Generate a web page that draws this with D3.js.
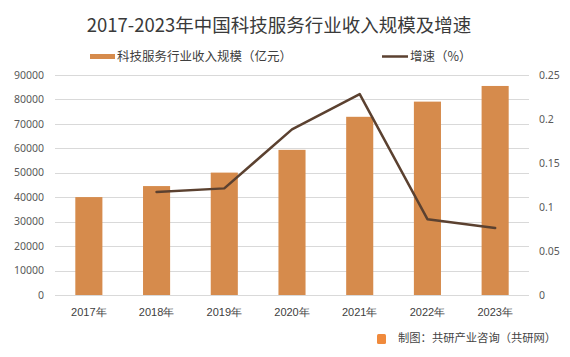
<!DOCTYPE html>
<html><head><meta charset="utf-8">
<script src="https://cdn.jsdelivr.net/npm/d3@7"></script>
<style>
html,body{margin:0;padding:0;background:#fff;}
svg{display:block;font-family:"Noto Sans CJK SC","Noto Sans",sans-serif;}
</style></head>
<body>
<svg id="chart" width="570" height="357"></svg>
<script>
const years = ["2017年","2018年","2019年","2020年","2021年","2022年","2023年"];
const revenue = [40000, 44500, 50000, 59300, 72800, 79000, 85400];
const growth = [null, 0.117, 0.121, 0.188, 0.228, 0.086, 0.076];
const leftTicks = [0,10000,20000,30000,40000,50000,60000,70000,80000,90000];
const rightTicks = [0,0.05,0.1,0.15,0.2,0.25];
const titleText = "2017-2023年中国科技服务行业收入规模及增速";
const legendBar = "科技服务行业收入规模（亿元）";
const legendLine = "增速（%）";
const footerText = "制图：共研产业咨询（共研网）";

const svg = d3.select("#chart");
const m = {left:55, right:529, top:74.7, bottom:295};

const x = d3.scaleBand().domain(years).range([m.left, m.right]).paddingInner(0.6).paddingOuter(0.3);
const yL = d3.scaleLinear().domain([0,90000]).range([m.bottom, m.top]);
const yR = d3.scaleLinear().domain([0,0.25]).range([m.bottom, m.top]);

// gridlines
svg.append("g").selectAll("line").data(leftTicks).join("line")
  .attr("x1", m.left).attr("x2", m.right)
  .attr("y1", d=>Math.round(yL(d))+0.5).attr("y2", d=>Math.round(yL(d))+0.5)
  .attr("stroke", "#d9d9d9").attr("stroke-width", 1);

// left axis
const axL = svg.append("g").attr("transform", `translate(${m.left-11},0)`)
  .call(d3.axisLeft(yL).tickValues(leftTicks).tickSize(0).tickPadding(0).tickFormat(d=>String(d)));
axL.select(".domain").remove();
axL.selectAll("text").attr("font-size", "10.5px").attr("fill", "#595959").attr("font-family", "'Noto Sans','DejaVu Sans',sans-serif");

// right axis
const axR = svg.append("g").attr("transform", `translate(${m.right+10},0)`)
  .call(d3.axisRight(yR).tickValues(rightTicks).tickSize(0).tickPadding(0).tickFormat(d=>String(d)));
axR.select(".domain").remove();
axR.selectAll("text").attr("font-size", "10.5px").attr("fill", "#595959").attr("font-family", "'Noto Sans','DejaVu Sans',sans-serif");

// x axis labels
const axX = svg.append("g").attr("transform", `translate(0,${m.bottom+13})`)
  .call(d3.axisBottom(x).tickSize(0).tickPadding(0));
axX.select(".domain").remove();
axX.selectAll("text").attr("font-size", "11px").attr("fill", "#404040");

// bars
svg.append("g").selectAll("rect").data(revenue).join("rect")
  .attr("x", (d,i)=>x(years[i]))
  .attr("width", x.bandwidth())
  .attr("y", d=>yL(d))
  .attr("height", d=>yL(0)-yL(d))
  .attr("fill", "#d68b4c");

// line
const pts = growth.map((g,i)=>({g, yr: years[i]})).filter(d=>d.g!==null);
svg.append("path").datum(pts)
  .attr("d", d3.line().x(d=>x(d.yr)+x.bandwidth()/2).y(d=>yR(d.g)))
  .attr("fill","none").attr("stroke","#5b4130").attr("stroke-width",2.5)
  .attr("stroke-linejoin","round").attr("stroke-linecap","round");

// title
svg.append("text").attr("x", 279).attr("y", 32).attr("text-anchor","middle")
  .attr("font-size","18.5px").attr("fill","#3a3a3a").text(titleText);

// legend
svg.append("rect").attr("x",90).attr("y",54).attr("width",25).attr("height",5).attr("fill","#d68b4c");
svg.append("text").attr("x",117).attr("y",61).attr("font-size","12.5px").attr("fill","#404040").text(legendBar);
svg.append("line").attr("x1",382).attr("x2",408).attr("y1",56.5).attr("y2",56.5).attr("stroke","#5b4130").attr("stroke-width",2.5);
svg.append("text").attr("x",410).attr("y",61).attr("font-size","12.5px").attr("fill","#404040").text(legendLine);

// footer
const logo = svg.append("g").attr("transform","translate(377,334)");
logo.append("rect").attr("width",9).attr("height",10).attr("rx",1.5).attr("fill","#f08a3c");
svg.append("text").attr("x",398).attr("y",342).attr("font-size","11.3px").attr("fill","#444").text(footerText);
</script>
</body></html>
